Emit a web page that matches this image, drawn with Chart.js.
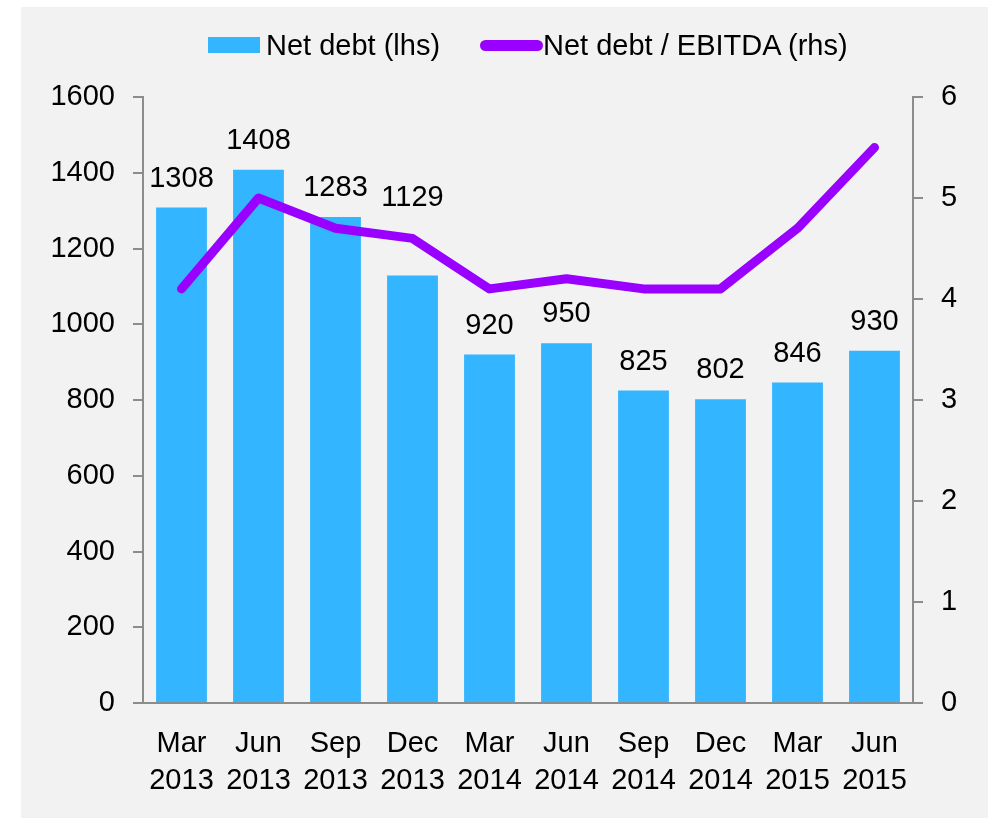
<!DOCTYPE html>
<html>
<head>
<meta charset="utf-8">
<script src="https://cdn.jsdelivr.net/npm/chart.js@4"></script>
<style>
    body { margin: 0; background: #fff; }
    #wrap { position: relative; width: 991px; height: 818px; }
    #panel { position: absolute; left: 21px; top: 7px; width: 967px; height: 811px; background: #f2f2f2; }
    #NetDebt { position: absolute; left: 0; top: 0; }
    .legend { position: absolute; top: 28px; font: 29px "Liberation Sans", Arial, sans-serif; color: #000; line-height: 34px; white-space: nowrap; }
    .swatch { position: absolute; }
</style>
</head>
<body>
<div id="wrap">
    <div id="panel"></div>
    <canvas id="NetDebt" width="991" height="818"></canvas>
    <div id="legend"></div>
</div>
<script>
const categories = [
    ["Mar", "2013"], ["Jun", "2013"], ["Sep", "2013"], ["Dec", "2013"],
    ["Mar", "2014"], ["Jun", "2014"], ["Sep", "2014"], ["Dec", "2014"],
    ["Mar", "2015"], ["Jun", "2015"],
];
const netDebt = [1308, 1408, 1283, 1129, 920, 950, 825, 802, 846, 930];
const debtToEbitda = [4.1, 5.0, 4.7, 4.6, 4.1, 4.2, 4.1, 4.1, 4.7, 5.5];
const seriesNames = ["Net debt (lhs)", "Net debt / EBITDA (rhs)"];
const leftTicks = { min: 0, max: 1600, step: 200 };
const rightTicks = { min: 0, max: 6, step: 1 };

const BAR_COLOR = "rgb(51,181,255)";
const LINE_COLOR = "rgb(153,0,255)";
const AXIS_COLOR = "#8c8c8c";
const FONT = { family: "'Liberation Sans', Arial, sans-serif", size: 29 };

// html legend, so the line sample can be a real thick line
function BuildLegend() {
    const el = document.getElementById("legend");
    el.innerHTML =
        '<div class="swatch" style="left:208px;top:37px;width:52px;height:16px;background:' + BAR_COLOR + '"></div>' +
        '<div class="legend" style="left:266px">' + seriesNames[0] + '</div>' +
        '<div class="swatch" style="left:480px;top:40px;width:63px;height:11px;border-radius:6px;background:' + LINE_COLOR + '"></div>' +
        '<div class="legend" style="left:543px">' + seriesNames[1] + '</div>';
}

// value labels above the bars, lifted over the line when they would touch it
const barLabels = {
    id: "barLabels",
    afterDatasetsDraw(chart) {
        const ctx = chart.ctx;
        const bars = chart.getDatasetMeta(0).data;
        const points = chart.getDatasetMeta(1).data;
        ctx.save();
        ctx.font = FONT.size + "px " + FONT.family;
        ctx.fillStyle = "#000";
        ctx.textAlign = "center";
        ctx.textBaseline = "middle";
        bars.forEach((bar, i) => {
            let y = bar.y - 29;
            const ly = points[i].y;
            if (y + 12 > ly - 6 && y - 12 < ly + 6) {
                y = ly - 40;
            }
            ctx.fillText(String(netDebt[i]), bar.x, y);
        });
        ctx.restore();
    },
};

function NetDebtChart() {
    const ctx = document.getElementById("NetDebt");

    new Chart(ctx, {
        data: {
            labels: categories,
            datasets: [
                {
                    type: "bar",
                    label: seriesNames[0],
                    data: netDebt,
                    backgroundColor: BAR_COLOR,
                    borderWidth: 0,
                    categoryPercentage: 1,
                    barPercentage: 0.66,
                    yAxisID: "y",
                    order: 2,
                },
                {
                    type: "line",
                    label: seriesNames[1],
                    data: debtToEbitda,
                    borderColor: LINE_COLOR,
                    backgroundColor: LINE_COLOR,
                    borderWidth: 9,
                    borderCapStyle: "round",
                    borderJoinStyle: "round",
                    pointRadius: 0,
                    tension: 0,
                    yAxisID: "y1",
                    order: 1,
                },
            ],
        },
        options: {
            responsive: false,
            animation: false,
            layout: {
                padding: { top: 97, bottom: 0, left: 0, right: 0 },
            },
            plugins: {
                legend: { display: false },
                tooltip: { enabled: false },
            },
            scales: {
                x: {
                    grid: { display: false },
                    border: { color: AXIS_COLOR, width: 2 },
                    ticks: {
                        color: "#000",
                        font: { ...FONT, lineHeight: 1.27 },
                        padding: 15,
                        maxRotation: 0,
                        autoSkip: false,
                    },
                    afterFit(scale) { scale.height = 115; },
                },
                y: {
                    position: "left",
                    min: leftTicks.min,
                    max: leftTicks.max,
                    grid: {
                        drawOnChartArea: false,
                        drawTicks: true,
                        tickLength: 10,
                        color: AXIS_COLOR,
                        lineWidth: 2,
                    },
                    border: { color: AXIS_COLOR, width: 2 },
                    ticks: {
                        stepSize: leftTicks.step,
                        color: "#000",
                        font: FONT,
                        padding: 18,
                        callback: (v) => String(v),
                    },
                    afterFit(scale) { scale.width = 143; },
                },
                y1: {
                    position: "right",
                    min: rightTicks.min,
                    max: rightTicks.max,
                    grid: {
                        drawOnChartArea: false,
                        drawTicks: true,
                        tickLength: 10,
                        color: AXIS_COLOR,
                        lineWidth: 2,
                    },
                    border: { color: AXIS_COLOR, width: 2 },
                    ticks: {
                        stepSize: rightTicks.step,
                        color: "#000",
                        font: FONT,
                        padding: 18,
                        callback: (v) => String(v),
                    },
                    afterFit(scale) { scale.width = 78; },
                },
            },
        },
        plugins: [barLabels],
    });
}

BuildLegend()
NetDebtChart()
</script>
</body>
</html>
